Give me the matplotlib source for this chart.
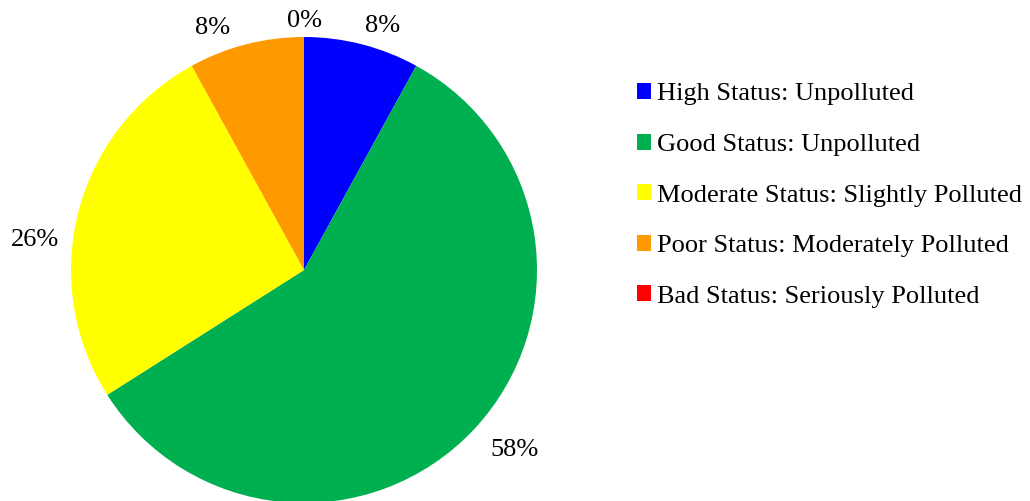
import numpy as np
import matplotlib.pyplot as plt
from matplotlib.patches import Patch

categories = ['High Status: Unpolluted', 'Good Status: Unpolluted',
              'Moderate Status: Slightly Polluted', 'Poor Status: Moderately Polluted',
              'Bad Status: Seriously Polluted']
shares = [8, 58, 26, 8, 0]
colors = ['#0000FF', '#00B050', '#FFFF00', '#FF9900', '#FF0000']

# label placement (angle shift in degrees, radial distance) like the Excel layout
label_layout = [(-3.5, 1.10), (2.6, 1.19), (8.0, 1.16), (6.2, 1.11), (0.0, 1.07)]

plt.rcParams['font.family'] = ['Liberation Serif', 'DejaVu Serif']

fig = plt.figure(figsize=(10.3, 5.01), dpi=100)
ax = fig.add_axes([0, 0, 1, 1])

wedges, _ = ax.pie(shares, colors=colors, startangle=90, counterclock=False,
                   wedgeprops=dict(linewidth=0))

total = sum(shares)
start = 90.0
for value, (shift, dist) in zip(shares, label_layout):
    span = 360.0 * value / total
    mid = np.deg2rad(start - span / 2 + shift)
    ax.text(dist * np.cos(mid), dist * np.sin(mid), f'{value}%',
            ha='center', va='center', fontsize=19)
    start -= span

ax.set_xlim(-304 / 233, (1030 - 304) / 233)
ax.set_ylim((270 - 501) / 233, 270 / 233)
ax.axis('off')

handles = [Patch(facecolor=c, edgecolor='none') for c in colors]
fig.legend(handles, categories, loc='upper left', bbox_to_anchor=(0.608, 0.855),
           frameon=False, fontsize=19, handlelength=0.55, handleheight=0.55,
           handletextpad=0.2, labelspacing=1.07, borderaxespad=0)

fig.savefig('out.png', dpi=100)
